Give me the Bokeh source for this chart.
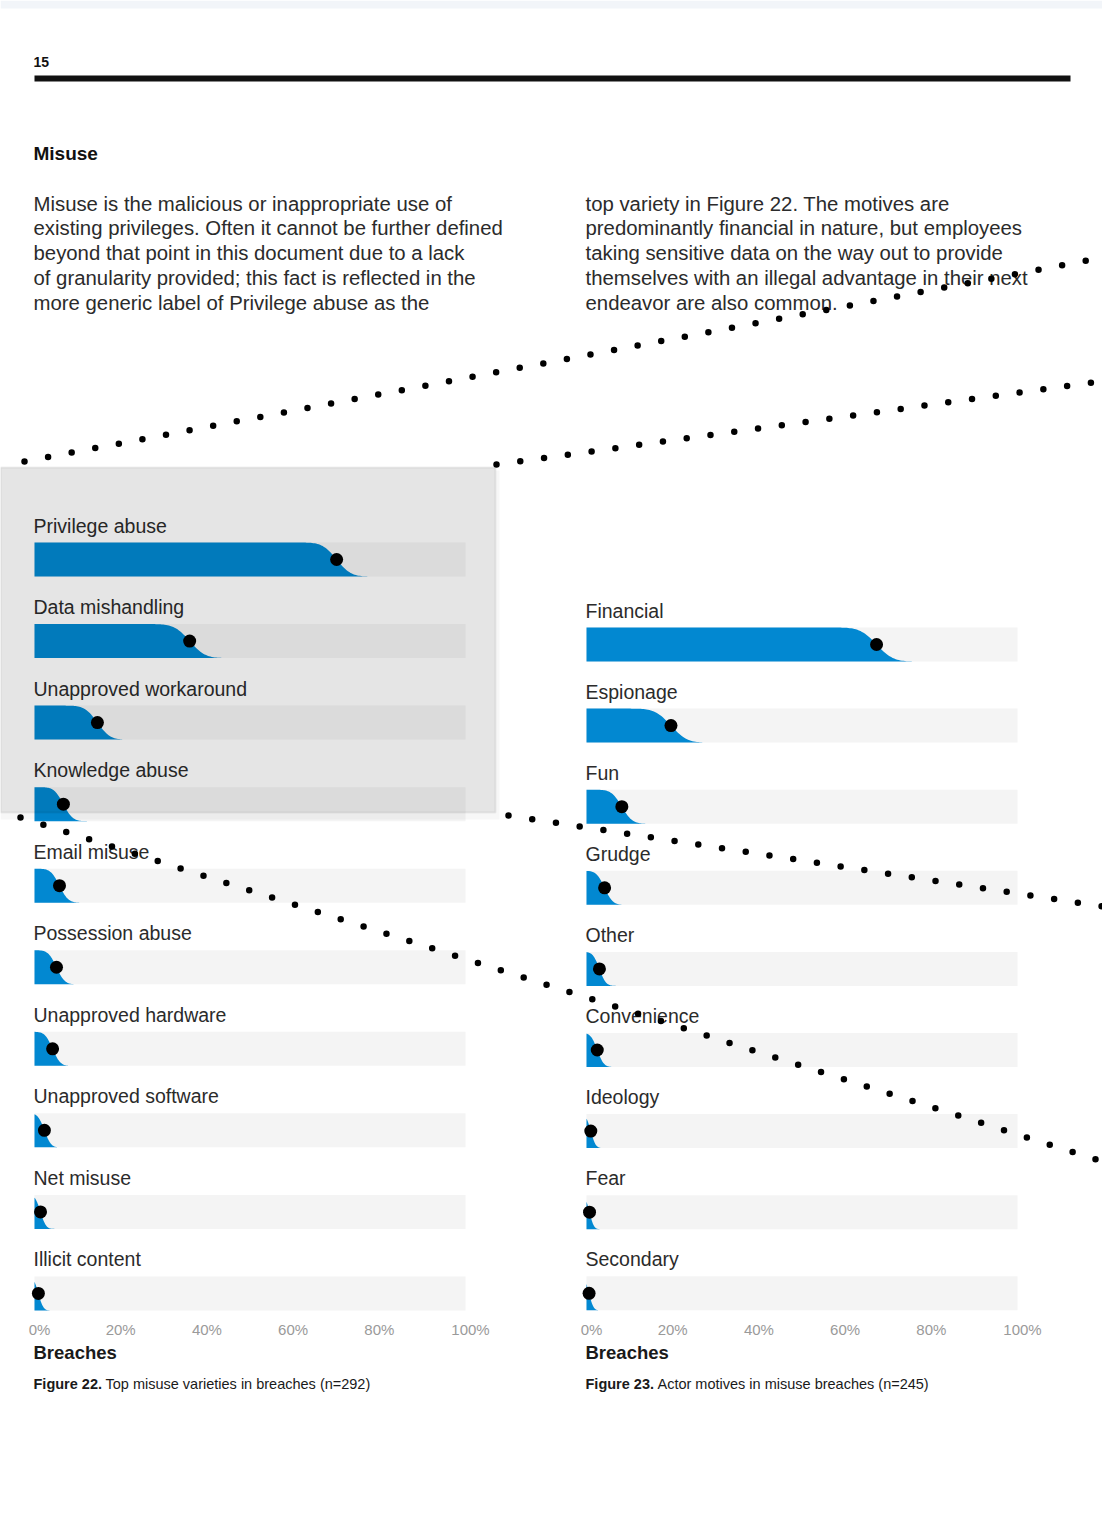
import math
from bokeh.plotting import figure
from bokeh.models import Range1d
from bokeh.core.properties import value
from bokeh.embed import file_html
from bokeh.resources import INLINE

# ---------------- data ----------------
page_number = "15"
section_title = "Misuse"
para_left = [
    "Misuse is the malicious or inappropriate use of",
    "existing privileges. Often it cannot be further defined",
    "beyond that point in this document due to a lack",
    "of granularity provided; this fact is reflected in the",
    "more generic label of Privilege abuse as the",
]
para_right = [
    "top variety in Figure 22. The motives are",
    "predominantly financial in nature, but employees",
    "taking sensitive data on the way out to provide",
    "themselves with an illegal advantage in their next",
    "endeavor are also common.",
]

varieties = ["Privilege abuse", "Data mishandling", "Unapproved workaround",
             "Knowledge abuse", "Email misuse", "Possession abuse",
             "Unapproved hardware", "Unapproved software", "Net misuse",
             "Illicit content"]
variety_pct = [70.1, 36.0, 14.6, 6.7, 5.8, 5.1, 4.2, 2.3, 1.4, 0.9]
variety_spread = [2.6, 2.8, 2.3, 1.7, 1.6, 1.5, 1.4, 1.2, 1.0, 0.9]

motives = ["Financial", "Espionage", "Fun", "Grudge", "Other", "Convenience",
           "Ideology", "Fear", "Secondary"]
motive_pct = [67.3, 19.6, 8.2, 4.2, 3.0, 2.5, 1.0, 0.7, 0.6]
motive_spread = [3.0, 2.9, 1.9, 1.5, 1.2, 1.2, 0.9, 0.8, 0.8]

ticks = [0, 20, 40, 60, 80, 100]
tick_labels = ["0%", "20%", "40%", "60%", "80%", "100%"]
axis_title = "Breaches"
cap1_bold, cap1_rest = "Figure 22.", "Top misuse varieties in breaches (n=292)"
cap2_bold, cap2_rest = "Figure 23.", "Actor motives in misuse breaches (n=245)"

# decorative dotted paths (page pixels)
dots_x0 = [24, 496, 20, 508]
dots_y0 = [461, 464, 817, 815]
dots_x1 = [1087, 1092, 1099, 1102]
dots_y1 = [260, 382, 1160, 906]

# ---------------- layout / style ----------------
W, H = 1102, 1516
FONT = "Liberation Sans"
BLUE = "#0288D1"
TRACK = "#F4F4F4"
TXT = "#2b2b2b"
BAR_PX = 34
G1 = dict(x0=34, x1=465, row0=559, step=81.55)
G2 = dict(x0=586, x1=1017, row0=644, step=81.1)

p = figure(width=W, height=H, x_range=Range1d(0, W), y_range=Range1d(H, 0),
           x_axis_location=None, y_axis_location=None, toolbar_location=None,
           min_border=0, outline_line_color=None, output_backend="svg",
           background_fill_color="white", border_fill_color="white")
p.grid.grid_line_color = None


def ranges(g):
    k = (g["x1"] - g["x0"]) / 100.0
    xr = Range1d(start=-g["x0"] / k, end=(W - g["x0"]) / k)
    yr = Range1d(start=(H - g["row0"]) / g["step"], end=-g["row0"] / g["step"])
    return xr, yr


x1r, y1r = ranges(G1)
x2r, y2r = ranges(G2)
p.extra_x_ranges = {"c1x": x1r, "c2x": x2r}
p.extra_y_ranges = {"c1y": y1r, "c2y": y2r}

# top strip and header
p.quad(left=[0], right=[W], top=[0], bottom=[8], fill_color="#F2F5F9", line_color=None)
p.text(x=[33], y=[61], text=[page_number], text_font=value(FONT), text_font_style="bold",
       text_font_size="14px", text_baseline="middle", text_color="#111111")
p.quad(left=[34], right=[1070], top=[75], bottom=[81], fill_color="#111111", line_color=None)
p.text(x=[33], y=[153], text=[section_title], text_font=value(FONT), text_font_style="bold",
       text_font_size="19px", text_baseline="middle", text_color="#111111")

line_y = [203 + 24.75 * i for i in range(len(para_left))]
p.text(x=[33] * len(para_left), y=line_y, text=para_left, text_font=value(FONT),
       text_font_size="20.35px", text_baseline="middle", text_color=TXT)
p.text(x=[585] * len(para_right), y=line_y, text=para_right, text_font=value(FONT),
       text_font_size="20.35px", text_baseline="middle", text_color=TXT)


def draw_chart(cats, vals, spreads, g, xr, yr, cap_bold, cap_rest):
    n = len(cats)
    rows = list(range(n))
    h = BAR_PX / g["step"]
    p.hbar(y=rows, left=0, right=100, height=h, fill_color=TRACK, line_color=None,
           x_range_name=xr, y_range_name=yr)
    xs, ys = [], []
    for r, v, s in zip(rows, vals, spreads):
        bot = r + h / 2
        a = max(0.0, v - 3.5 * s)
        b = v + 3.5 * s
        m = 60
        px = [a + (b - a) * i / (m - 1) for i in range(m)]
        f = [0.5 * (1 - math.erf((x - v) / (s * math.sqrt(2)))) for x in px]
        f0 = 0.5 * (1 - math.erf((0 - v) / (s * math.sqrt(2))))
        xs.append([0, 0] + px + [b])
        ys.append([bot, bot - f0 * h] + [bot - fi * h for fi in f] + [bot])
    p.patches(xs=xs, ys=ys, fill_color=BLUE, line_color=None,
              x_range_name=xr, y_range_name=yr)
    p.scatter(x=vals, y=rows, size=13, fill_color="black", line_color=None,
              x_range_name=xr, y_range_name=yr)
    p.text(x=[0] * n, y=rows, text=cats, x_offset=-1, y_offset=-34, text_baseline="middle",
           text_font=value(FONT), text_font_size="19.5px", text_color=TXT,
           x_range_name=xr, y_range_name=yr)
    p.text(x=ticks, y=[1329] * len(ticks), text=tick_labels, text_align="center",
           x_offset=[5, 0, 0, 0, 0, 5], text_baseline="middle", text_font=value(FONT),
           text_font_size="15px", text_color="#9a9a9a", x_range_name=xr)
    p.text(x=[0], y=[1352], text=[axis_title], x_offset=-1, text_baseline="middle",
           text_font=value(FONT), text_font_style="bold", text_font_size="18.5px",
           text_color="#1a1a1a", x_range_name=xr)
    p.text(x=[0], y=[1383], text=[cap_bold], x_offset=-1, text_baseline="middle",
           text_font=value(FONT), text_font_style="bold", text_font_size="14.5px",
           text_color="#1a1a1a", x_range_name=xr)
    p.text(x=[0], y=[1383], text=[cap_rest], x_offset=71, text_baseline="middle",
           text_font=value(FONT), text_font_size="14.5px",
           text_color="#1a1a1a", x_range_name=xr)


draw_chart(varieties, variety_pct, variety_spread, G1, "c1x", "c1y", cap1_bold, cap1_rest)
draw_chart(motives, motive_pct, motive_spread, G2, "c2x", "c2y", cap2_bold, cap2_rest)

# translucent overlay panel with soft shadow at its edges
p.quad(left=[0, 495], right=[499, 499], top=[812, 470], bottom=[819, 812],
       fill_color="black", fill_alpha=0.03, line_color=None)
p.quad(left=[0], right=[495], top=[467], bottom=[812], fill_color="black", fill_alpha=0.1,
       line_color="black", line_alpha=0.06, line_width=2)

# decorative dotted paths
p.segment(x0=dots_x0, y0=dots_y0, x1=dots_x1, y1=dots_y1, line_color="black",
          line_width=6.5, line_dash="0 24", line_cap="round")

open("out.html", "w").write(file_html(p, INLINE))
